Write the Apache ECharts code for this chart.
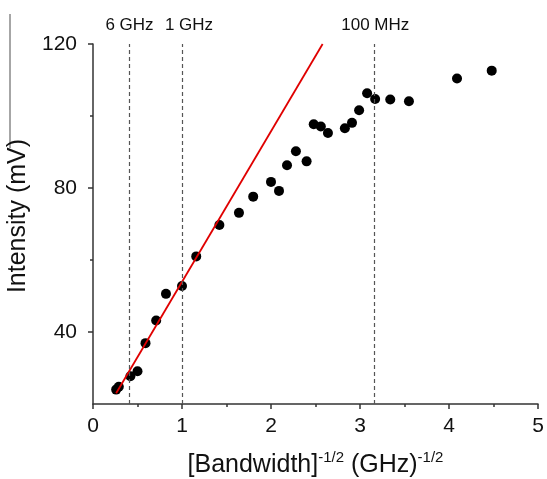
<!DOCTYPE html>
<html>
<head>
<meta charset="utf-8">
<script src="https://cdn.jsdelivr.net/npm/echarts@6/dist/echarts.min.js"></script>
<style>
  html, body { margin: 0; padding: 0; background: #fff; }
  #chart { width: 547px; height: 479px; }
</style>
</head>
<body>
<div id="chart"></div>
<script>
// measured points: x = [Bandwidth]^-1/2, y = intensity (mV)
var bwX = [0.26, 0.29, 0.42, 0.50, 0.59, 0.71, 0.82, 1.00, 1.16, 1.42, 1.64, 1.80, 2.00, 2.09, 2.18,
  2.28, 2.40, 2.48, 2.56, 2.64, 2.83, 2.91, 2.99, 3.08, 3.17, 3.34, 3.55, 4.09, 4.48];
var intensity = [24.0, 24.8, 27.7, 29.1, 36.9, 43.2, 50.6, 52.8, 61.0, 69.7, 73.1, 77.6, 81.7, 79.2, 86.3,
  90.2, 87.4, 97.7, 97.1, 95.3, 96.6, 98.1, 101.6, 106.3, 104.7, 104.6, 104.1, 110.4, 112.6];
// linear fit line ends
var fitX = [0.26, 2.58];
var fitY = [23, 120];
// bandwidth markers
var markNames = ['6 GHz', '1 GHz', '100 MHz'];
var markX = [0.408, 1, 3.162];
var markLabelShift = [0, 7, 1];
var yLabelTicks = [40, 80, 120];
var yMinorTicks = [60, 100];

var font = 'Arial, "Liberation Sans", sans-serif';
var chart = echarts.init(document.getElementById('chart'));

var points = bwX.map(function (x, i) { return [x, intensity[i]]; });
var fitLine = fitX.map(function (x, i) { return [x, fitY[i]]; });
var markData = markX.map(function (x, i) {
  return {
    xAxis: x,
    name: markNames[i],
    label: { offset: [markLabelShift[i], 0] }
  };
});

var option = {
  animation: false,
  backgroundColor: '#fff',
  textStyle: { fontFamily: font },
  grid: { left: 93, right: 9, top: 44, bottom: 75, outerBoundsMode: 'none', containLabel: false },
  xAxis: {
    type: 'value',
    min: 0,
    max: 5,
    interval: 1,
    name: '{m|[Bandwidth]}{s|-1/2}{m| (GHz)}{s|-1/2}',
    nameLocation: 'middle',
    nameGap: 46,
    nameTextStyle: {
      rich: {
        m: { fontSize: 25, color: '#111', fontFamily: font, lineHeight: 30 },
        s: { fontSize: 15, color: '#111', fontFamily: font, verticalAlign: 'top', lineHeight: 30, padding: [0, 0, 10, 0] }
      }
    },
    axisLine: { lineStyle: { color: '#333', width: 1.5 } },
    axisTick: { length: 5, lineStyle: { color: '#333', width: 1.5 } },
    minorTick: { show: true, splitNumber: 2, length: 3, lineStyle: { color: '#333', width: 1.5 } },
    axisLabel: { fontSize: 21, color: '#111', margin: 12 },
    splitLine: { show: false }
  },
  yAxis: [{
    type: 'value',
    min: 20,
    max: 120,
    interval: 20,
    name: 'Intensity (mV)',
    nameLocation: 'middle',
    nameGap: 58,
    nameTextStyle: { fontSize: 25, color: '#111', padding: [0, 0, 0, 16] },
    axisLine: { show: true, lineStyle: { color: '#333', width: 1.5 } },
    axisTick: { customValues: yLabelTicks, length: 5, lineStyle: { color: '#333', width: 1.5 } },
    axisLabel: { customValues: yLabelTicks, fontSize: 21, color: '#111', margin: 16 },
    splitLine: { show: false }
  }, {
    type: 'value',
    position: 'left',
    min: 20,
    max: 120,
    interval: 20,
    axisLine: { show: false },
    axisTick: { customValues: yMinorTicks, length: 3, lineStyle: { color: '#333', width: 1.5 } },
    axisLabel: { show: false },
    splitLine: { show: false }
  }],
  series: [
    {
      type: 'scatter',
      data: points,
      symbolSize: 10,
      itemStyle: { color: '#000', opacity: 1 },
      markLine: {
        silent: true,
        symbol: 'none',
        lineStyle: { color: '#555', type: [4, 3], width: 1.2 },
        label: {
          show: true,
          position: 'end',
          distance: 10,
          formatter: '{b}',
          fontSize: 17,
          color: '#111',
          fontFamily: font
        },
        data: markData
      }
    },
    {
      type: 'line',
      data: fitLine,
      showSymbol: false,
      lineStyle: { color: '#e00000', width: 1.8 },
      z: 3
    }
  ],
  graphic: [{
    type: 'line',
    shape: { x1: 10, y1: 14, x2: 10, y2: 148 },
    style: { stroke: '#888', lineWidth: 1.5 }
  }]
};

chart.setOption(option);
</script>
</body>
</html>
